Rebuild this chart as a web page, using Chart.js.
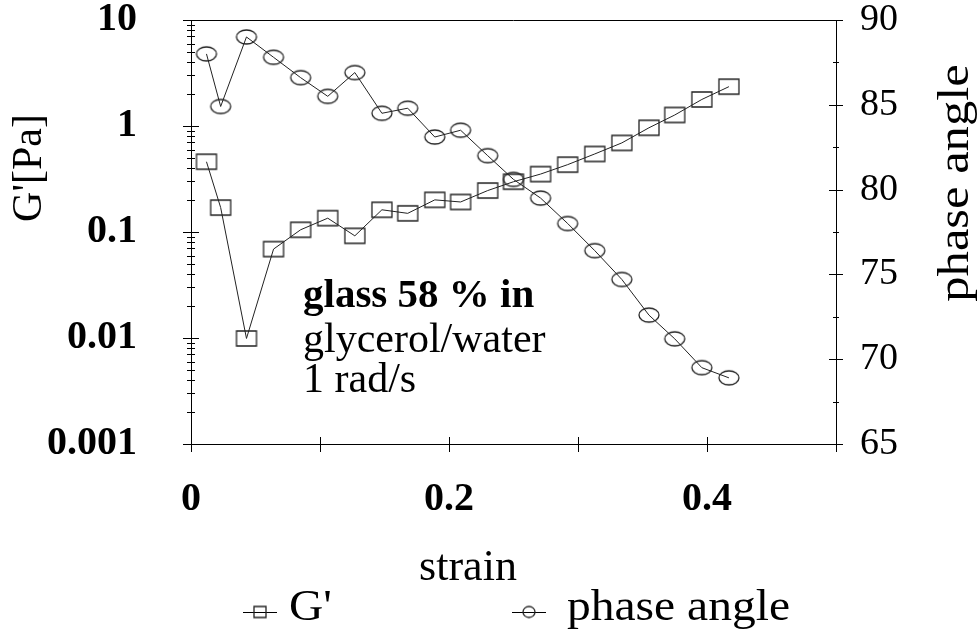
<!DOCTYPE html>
<html lang="en">
<head>
  <meta charset="UTF-8">
  <title>G' and phase angle vs strain</title>
  <style>
    body, html {
      margin: 0;
      background: #fff;
    }
    #chart {
      display: block;
    }
  </style>
</head>
<body>
  <canvas id="chart" width="978" height="633"></canvas>

  <script src="https://cdn.jsdelivr.net/npm/chart.js"></script>
  <script>
    // values
    const strain = [0.012, 0.023, 0.043, 0.064, 0.085, 0.106, 0.127, 0.148, 0.168, 0.189, 0.209,
                    0.230, 0.250, 0.271, 0.292, 0.313, 0.334, 0.355, 0.375, 0.396, 0.417];
    const gPrime = [0.46, 0.17, 0.0099, 0.069, 0.105, 0.135, 0.092, 0.162, 0.150, 0.201, 0.192,
                    0.246, 0.298, 0.352, 0.432, 0.545, 0.693, 0.962, 1.27, 1.78, 2.35];
    const phaseAngle = [88.0, 84.9, 89.0, 87.8, 86.6, 85.5, 86.9, 84.5, 84.8, 83.1, 83.5,
                        82.0, 80.6, 79.5, 78.0, 76.4, 74.7, 72.6, 71.2, 69.5, 68.9];

    const strainTicks = [0, 0.2, 0.4];
    const strainMinor = [0.1, 0.3, 0.5];
    const gTicks = [0.001, 0.01, 0.1, 1, 10];
    const phaseTicks = [65, 70, 75, 80, 85, 90];
    const phaseMinor = [67.5, 72.5, 77.5, 82.5, 87.5];

    const noteLines = ['glass 58 % in', 'glycerol/water', '1 rad/s'];

    const serif = "'Liberation Serif', 'DejaVu Serif', serif";

    // hollow markers, a bit wider than tall like the print
    function markerCanvas(kind, w, h) {
      const c = document.createElement('canvas');
      c.width = w + 4;
      c.height = h + 4;
      const g = c.getContext('2d');
      g.strokeStyle = '#222';
      g.lineWidth = 1.3;
      g.beginPath();
      if (kind === 'rect') {
        g.rect(2, 2, w, h);
      } else {
        g.ellipse(c.width / 2, c.height / 2, w / 2, h / 2, 0, 0, Math.PI * 2);
      }
      g.stroke();
      return c;
    }

    const squareMark = markerCanvas('rect', 20, 15);
    const circleMark = markerCanvas('ellipse', 20, 14);

    // text stretched along its run, the print uses a wide face
    function wideText(ctx, text, x, y, sx, angle) {
      ctx.save();
      ctx.translate(x, y);
      ctx.rotate(angle);
      ctx.scale(sx, 1);
      ctx.fillText(text, 0, 0);
      ctx.restore();
    }

    // ticks that cross the axis lines, top frame line, texts
    const decorations = {
      id: 'decorations',
      afterDraw(chart) {
        const ctx = chart.ctx;
        const area = chart.chartArea;
        const x = chart.scales.x, yl = chart.scales.y, yr = chart.scales.y2;

        ctx.save();
        ctx.strokeStyle = '#000';
        ctx.lineWidth = 1;

        ctx.beginPath();
        ctx.moveTo(area.left, area.top + 0.5);
        ctx.lineTo(area.right, area.top + 0.5);

        strainTicks.concat(strainMinor).forEach(v => {
          const px = Math.round(x.getPixelForValue(v)) + 0.5;
          ctx.moveTo(px, area.bottom - 7);
          ctx.lineTo(px, area.bottom + 8);
        });

        for (let d = 0.001; d < 10; d *= 10) {
          for (let m = 1; m < 10; m++) {
            const py = Math.round(yl.getPixelForValue(d * m)) + 0.5;
            const len = m === 1 ? 8 : 4;
            ctx.moveTo(area.left - len, py);
            ctx.lineTo(area.left + len, py);
          }
        }
        const topY = Math.round(yl.getPixelForValue(10)) + 0.5;
        ctx.moveTo(area.left - 8, topY);
        ctx.lineTo(area.left + 8, topY);

        phaseTicks.forEach(v => {
          const py = Math.round(yr.getPixelForValue(v)) + 0.5;
          ctx.moveTo(area.right - 7, py);
          ctx.lineTo(area.right + 7, py);
        });
        phaseMinor.forEach(v => {
          const py = Math.round(yr.getPixelForValue(v)) + 0.5;
          ctx.moveTo(area.right - 3, py);
          ctx.lineTo(area.right + 3, py);
        });
        ctx.stroke();

        ctx.fillStyle = '#000';
        ctx.textBaseline = 'alphabetic';

        // note inside the plot
        ctx.textAlign = 'left';
        ctx.font = 'bold 41px ' + serif;
        ctx.fillText(noteLines[0], 303, 307);
        ctx.font = '42px ' + serif;
        ctx.fillText(noteLines[1], 303, 352);
        ctx.fillText(noteLines[2], 303, 392);

        // axis titles
        ctx.textAlign = 'center';
        ctx.font = '44px ' + serif;
        wideText(ctx, 'strain', 468, 580, 1, 0);

        ctx.textBaseline = 'middle';
        ctx.font = '42px ' + serif;
        wideText(ctx, "G'[Pa]", 30, 168, 1, -Math.PI / 2);
        ctx.font = '44px ' + serif;
        wideText(ctx, 'phase angle', 956, 183, 1.15, -Math.PI / 2);

        // legend under the title
        const items = [
          { label: chart.data.datasets[0].label, mark: 'rect', cx: 260, tx: 289 },
          { label: chart.data.datasets[1].label, mark: 'ellipse', cx: 529, tx: 567 }
        ];
        ctx.textAlign = 'left';
        ctx.textBaseline = 'alphabetic';
        ctx.font = '44px ' + serif;
        items.forEach(it => {
          const my = 612;
          ctx.beginPath();
          ctx.moveTo(it.cx - 17, my + 0.5);
          ctx.lineTo(it.cx + 17, my + 0.5);
          ctx.stroke();
          ctx.drawImage(markerCanvas(it.mark, 12, 11), it.cx - 8, my - 7.5);
          wideText(ctx, it.label, it.tx, 620, 1.08, 0);
        });

        ctx.restore();
      }
    };

    new Chart(document.getElementById('chart').getContext('2d'), {
      type: 'line',
      data: {
        datasets: [
          {
            label: "G'",
            data: strain.map((s, i) => ({ x: s, y: gPrime[i] })),
            yAxisID: 'y',
            borderColor: '#222',
            borderWidth: 1,
            pointStyle: squareMark,
            pointRadius: 10,
            fill: false,
            tension: 0
          },
          {
            label: 'phase angle',
            data: strain.map((s, i) => ({ x: s, y: phaseAngle[i] })),
            yAxisID: 'y2',
            borderColor: '#222',
            borderWidth: 1,
            pointStyle: circleMark,
            pointRadius: 10,
            fill: false,
            tension: 0
          }
        ]
      },
      options: {
        responsive: false,
        devicePixelRatio: 1,
        animation: false,
        layout: { autoPadding: false, padding: { top: 20, left: 0, right: 0, bottom: 0 } },
        plugins: {
          legend: { display: false },
          tooltip: { enabled: false }
        },
        scales: {
          x: {
            type: 'linear',
            min: 0,
            max: 0.5,
            afterBuildTicks: s => { s.ticks = strainTicks.map(v => ({ value: v })); },
            afterFit: s => { s.height = 189; s.paddingLeft = 0; s.paddingRight = 0; },
            grid: { display: false, drawTicks: false },
            border: { display: true, color: '#000', width: 1 },
            ticks: {
              color: '#000',
              padding: 32,
              maxRotation: 0,
              font: { family: serif, size: 40, weight: 'bold' },
              callback: v => String(v)
            }
          },
          y: {
            type: 'logarithmic',
            position: 'left',
            min: 0.001,
            max: 10,
            afterBuildTicks: s => { s.ticks = gTicks.map(v => ({ value: v })); },
            afterFit: s => { s.width = 191; s.paddingTop = 0; s.paddingBottom = 0; },
            grid: { display: false, drawTicks: false },
            border: { display: true, color: '#000', width: 1 },
            ticks: {
              color: '#000',
              padding: 54,
              font: { family: serif, size: 40, weight: 'bold' },
              callback: v => String(v)
            }
          },
          y2: {
            type: 'linear',
            position: 'right',
            min: 65,
            max: 90,
            afterBuildTicks: s => { s.ticks = phaseTicks.map(v => ({ value: v })); },
            afterFit: s => { s.width = 142; s.paddingTop = 0; s.paddingBottom = 0; },
            grid: { display: false, drawTicks: false },
            border: { display: true, color: '#000', width: 1 },
            ticks: {
              color: '#000',
              padding: 24,
              font: { family: serif, size: 38 },
              callback: v => String(v)
            }
          }
        }
      },
      plugins: [decorations]
    });
  </script>
</body>
</html>
